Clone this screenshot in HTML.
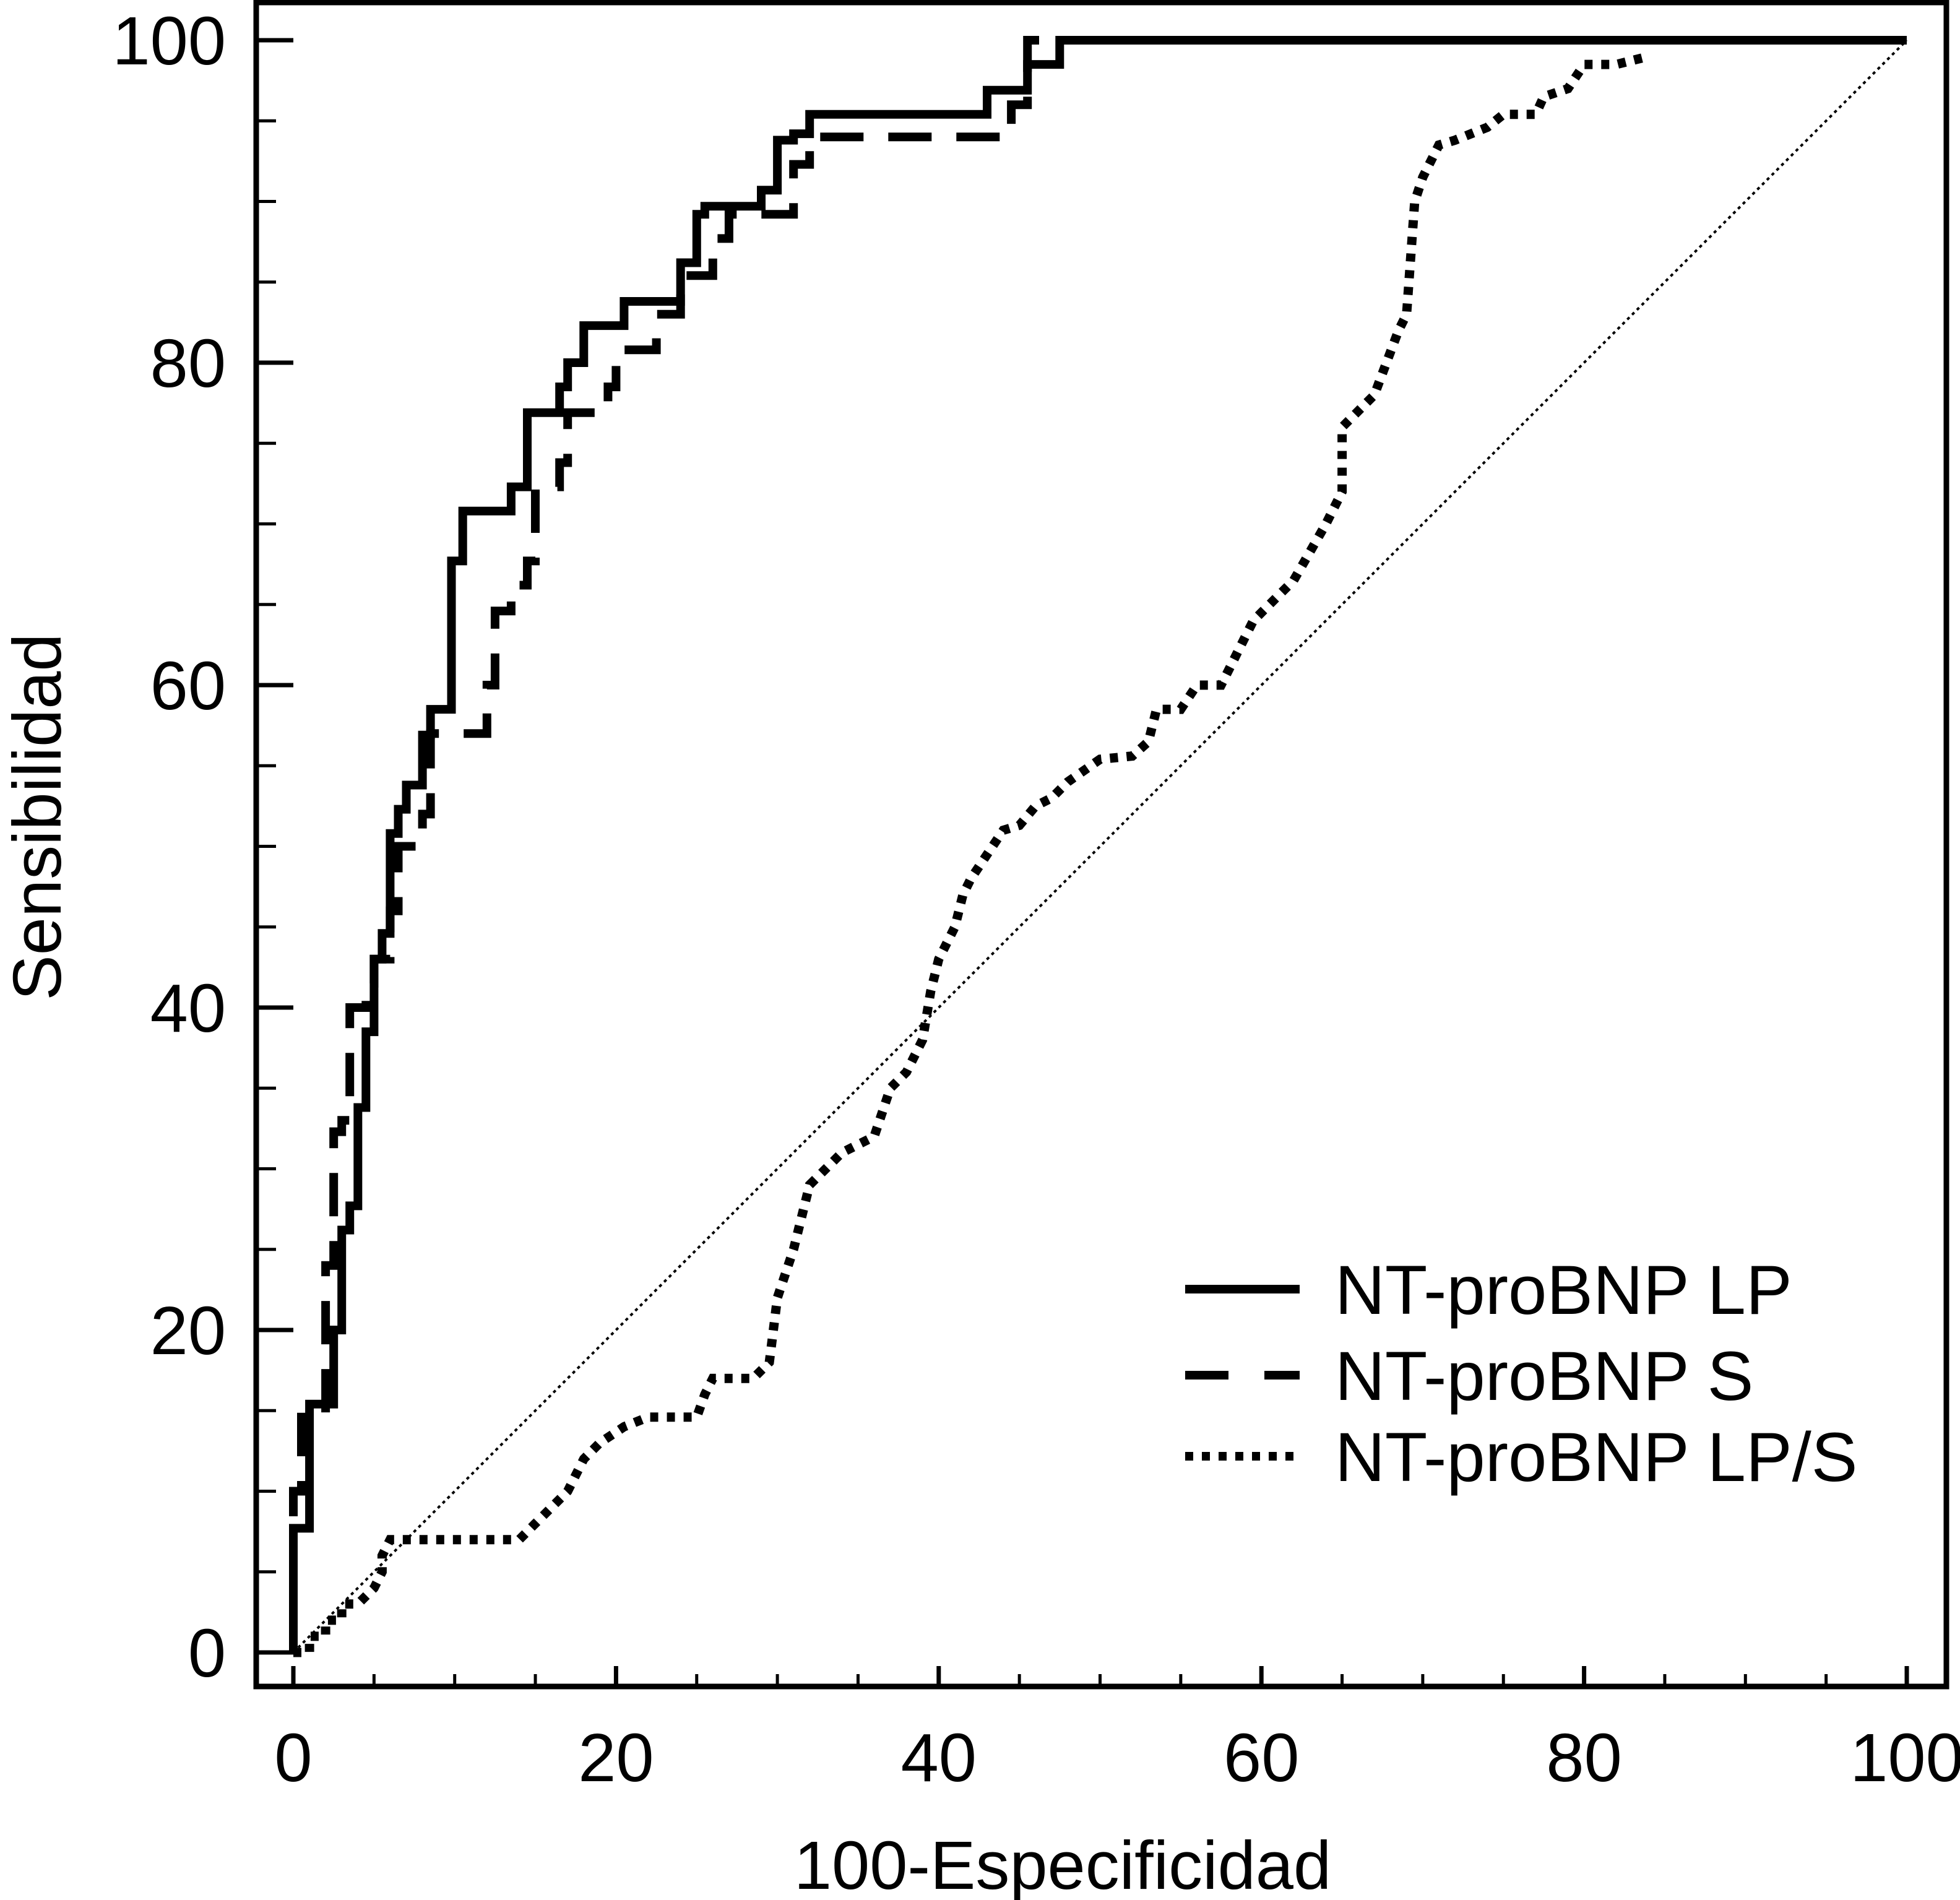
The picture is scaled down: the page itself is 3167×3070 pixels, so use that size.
<!DOCTYPE html>
<html><head><meta charset="utf-8"><style>
html,body{margin:0;padding:0;background:#fff;}
svg{display:block;}
text{font-family:"Liberation Sans",Arial,sans-serif;fill:#000;}
</style></head><body>
<svg id="chart" width="3167" height="3070" viewBox="0 0 3167 3070" xmlns="http://www.w3.org/2000/svg">
<rect x="0" y="0" width="3167" height="3070" fill="#fff"/>
<g id="marks"></g>
</svg>
<script>
const xTicks = [0, 20, 40, 60, 80, 100];
const yTicks = [0, 20, 40, 60, 80, 100];
const seriesNames = ["NT-proBNP LP", "NT-proBNP S", "NT-proBNP LP/S"];
const lpX = [0,0,1,1,2.5,2.5,3,3,3.5,3.5,4,4,4.5,4.5,5,5,5.5,5.5,6,6,6.5,6.5,7,7,8,8,8.5,8.5,9.8,9.8,10.5,10.5,13.5,13.5,14.5,14.5,16.5,16.5,17,17,18,18,20.5,20.5,24,24,25,25,25.5,25.5,29,29,30,30,31,31,32,32,43,43,45.5,45.5,47.5,47.5,100];
const lpY = [0,7.7,7.7,15.4,15.4,20,20,26.2,26.2,27.7,27.7,33.8,33.8,38.5,38.5,43,43,44.6,44.6,50.8,50.8,52.3,52.3,53.8,53.8,56.9,56.9,58.5,58.5,67.7,67.7,70.8,70.8,72.3,72.3,76.9,76.9,78.5,78.5,80,80,82.3,82.3,83.8,83.8,86.2,86.2,89.2,89.2,89.7,89.7,90.7,90.7,93.8,93.8,94.2,94.2,95.4,95.4,96.9,96.9,98.5,98.5,100,100];
const sX = [0,0,0.5,0.5,2,2,2.5,2.5,3,3,3.5,3.5,4.5,4.5,5,5,6,6,6.5,6.5,8,8,8.5,8.5,12,12,12.5,12.5,13.5,13.5,14.5,14.5,15,15,16.5,16.5,17,17,19.5,19.5,20,20,22.5,22.5,24,24,26,26,27,27,31,31,32,32,44.5,44.5,45.5,45.5,100];
const sY = [0,10,10,14.6,14.6,24,24,32.3,32.3,33,33,40,40,41.5,41.5,43,43,46,46,50,50,52,52,57,57,60,60,64.6,64.6,66.2,66.2,67.7,67.7,72.3,72.3,73.8,73.8,76.9,76.9,78.5,78.5,80.8,80.8,83,83,85.4,85.4,87.7,87.7,89.2,89.2,92.3,92.3,94,94,96,96,100,100];
const lpsX = [0,1,1,2,2,3,3,4,5,5.5,5.5,6,7,14,15,16,17,18,19,20.5,22,25,25.5,26,28.5,29.5,30,31,32,33,34,35,36,37,38,39,39.5,40,41,41.5,42,43,44,45,46,47,48,50,52,53,53.5,55,56,57.5,58,59,59.5,61,62,64,65,65,66,67,68.5,69,69.5,70,71,72,74,75,77,77.5,79,80,82,84];
const lpsY = [0,0,1,1,2,2,3,3,4,5,6,7,7,7,8,9,10,12,13,14,14.6,14.6,16,17,17,18,22,25,29,30,31,31.5,32,35,36,38,41,43,45,47,48,49.5,51,51.3,52.5,53,54,55.4,55.6,56.5,58.5,58.5,60,60,61,63,64,65.5,66.5,70,72,76,77,78,82,83,90,91.5,93.5,93.8,94.6,95.4,95.4,96.5,97,98.5,98.5,99];

const X0 = 474, X1 = 3081, Y0 = 2670, Y1 = 65;
function sx(v){ return X0 + (X1 - X0) * v / 100; }
function sy(v){ return Y0 - (Y0 - Y1) * v / 100; }
const NS = "http://www.w3.org/2000/svg";
const g = document.getElementById("marks");
function mk(tag, attrs){ const e = document.createElementNS(NS, tag); for (const k in attrs) e.setAttribute(k, attrs[k]); g.appendChild(e); return e; }

let fr = mk("rect", {x:414, y:4, width:2731, height:2721, fill:"none", stroke:"#000", "stroke-width":9});



for (let v = 0; v <= 100; v += 5) {
  const major = v % 20 === 0;
  const t = mk("line", {x1:414, x2: major ? 474 : 446, y1:sy(v), y2:sy(v), stroke:"#000", "stroke-width": major ? 7 : 5});
  
  
}
yTicks.forEach(v => {
  const t = mk("text", {x:365, y:sy(v) + 39, "font-size":110, "text-anchor":"end"});
  t.textContent = v;
  
  
});
for (let v = 0; v <= 100; v += 5) {
  const major = v % 20 === 0;
  const t = mk("line", {x1:sx(v), x2:sx(v), y1:2725, y2: major ? 2692 : 2705, stroke:"#000", "stroke-width": major ? 7 : 5});
  
  
}
xTicks.forEach(v => {
  const t = mk("text", {x:sx(v), y:2878, "font-size":110, "text-anchor":"middle"});
  t.textContent = v;
  
  
});
let xt = mk("text", {x:1717, y:3052, "font-size":110, "text-anchor":"middle"});
xt.textContent = "100-Especificidad";


let yt = mk("text", {x:0, y:0, "font-size":110, "text-anchor":"middle", transform:"translate(98,1320) rotate(-90)"});
yt.textContent = "Sensibilidad";



let dg = mk("line", {x1:sx(0), y1:sy(0), x2:sx(100), y2:sy(100), stroke:"#000", "stroke-width":4, "stroke-dasharray":"5 6"});



function pts(xs, ys){ return xs.map((x,i) => sx(x).toFixed(1) + "," + sy(ys[i]).toFixed(1)).join(" "); }
let l1 = mk("polyline", {points:pts(lpX, lpY), fill:"none", stroke:"#000", "stroke-width":14, "stroke-linejoin":"miter"});


let l2 = mk("polyline", {points:pts(sX, sY), fill:"none", stroke:"#000", "stroke-width":14, "stroke-dasharray":"70 40"});


let l3 = mk("polyline", {points:pts(lpsX, lpsY), fill:"none", stroke:"#000", "stroke-width":15, "stroke-dasharray":"13 14"});



const legY = [2083, 2222, 2353];
const legDash = ["none", "70 58", "13 14"];
seriesNames.forEach((n, i) => {
  const ln = mk("line", {x1:1915, x2:2100, y1:legY[i], y2:legY[i], stroke:"#000", "stroke-width":14, "stroke-dasharray":legDash[i]});
  
  
  const tx = mk("text", {x:2157, y:legY[i] + 40, "font-size":112});
  tx.textContent = n;
  
  
});
</script>
</body></html>
